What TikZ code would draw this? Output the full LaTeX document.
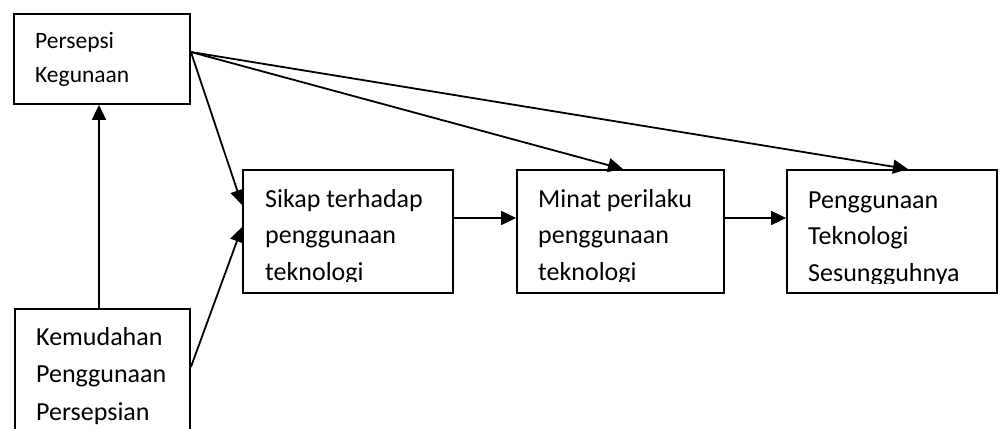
\documentclass[tikz,border=0pt]{standalone}
\usepackage{fontspec}
\setmainfont{Carlito}
\usetikzlibrary{arrows.meta}
\tikzset{
  boxnode/.style={draw=black,line width=1.8pt,inner sep=0pt},
  txt/.style={anchor=base west,align=left,inner sep=0pt,font=\fontsize{26}{36.5}\selectfont},
  bigtxt/.style={anchor=base west,align=left,inner sep=0pt,font=\fontsize{26}{37.5}\selectfont},
  smalltxt/.style={anchor=base west,align=left,inner sep=0pt,font=\fontsize{23.5}{34}\selectfont},
  conn/.style={line width=1.8pt,-{Triangle[length=15pt,width=14pt]}}
}
\begin{document}
\begin{tikzpicture}[x=1pt,y=-1pt]
\clip (0,0) rectangle (1003,428);
\fill[white] (0,0) rectangle (1003,428);
% boxes
\node[boxnode,minimum width=176pt,minimum height=90pt] (PK) at (102,59) {};
\node[boxnode,minimum width=175pt,minimum height=160pt] (KP) at (102.5,389) {};
\node[boxnode,minimum width=210pt,minimum height=123pt] (SK) at (348,231.5) {};
\node[boxnode,minimum width=207pt,minimum height=123pt] (MP) at (620.5,231.5) {};
\node[boxnode,minimum width=210pt,minimum height=123pt] (PT) at (892,231.5) {};
% texts (anchor is baseline of the last line)
\node[smalltxt] (tPK) at (35,82) {Persepsi\\Kegunaan};
\node[bigtxt] (tKP) at (36,420) {Kemudahan\\Penggunaan\\Persepsian};
\begin{scope}
\clip (244,171) rectangle (452,281);
\node[txt] (tSK) at (265,280) {Sikap terhadap\\penggunaan\\teknologi};
\end{scope}
\begin{scope}
\clip (518,171) rectangle (723,281);
\node[txt] (tMP) at (538,280) {Minat perilaku\\penggunaan\\teknologi};
\end{scope}
\begin{scope}
\clip (788,171) rectangle (996,283);
\node[txt] (tPT) at (808,281) {Penggunaan\\Teknologi\\Sesungguhnya};
\end{scope}
% connectors
\draw[conn] ([xshift=-3.5pt]KP.north) -- ([xshift=-3pt]PK.south);
\draw[conn] ([yshift=7pt]PK.east) -- ([yshift=26.5pt]SK.west);
\draw[conn] ([yshift=22pt]KP.east) -- ([yshift=4.5pt]SK.west);
\draw[conn] ([yshift=7pt]PK.east) -- ([xshift=2.5pt]MP.north);
\draw[conn] ([yshift=7pt]PK.east) -- ([xshift=16pt]PT.north);
\draw[conn] ([yshift=13.5pt]SK.east) -- ([yshift=13.5pt]MP.west);
\draw[conn] ([yshift=13.5pt]MP.east) -- ([yshift=13.5pt]PT.west);
\end{tikzpicture}
\end{document}
